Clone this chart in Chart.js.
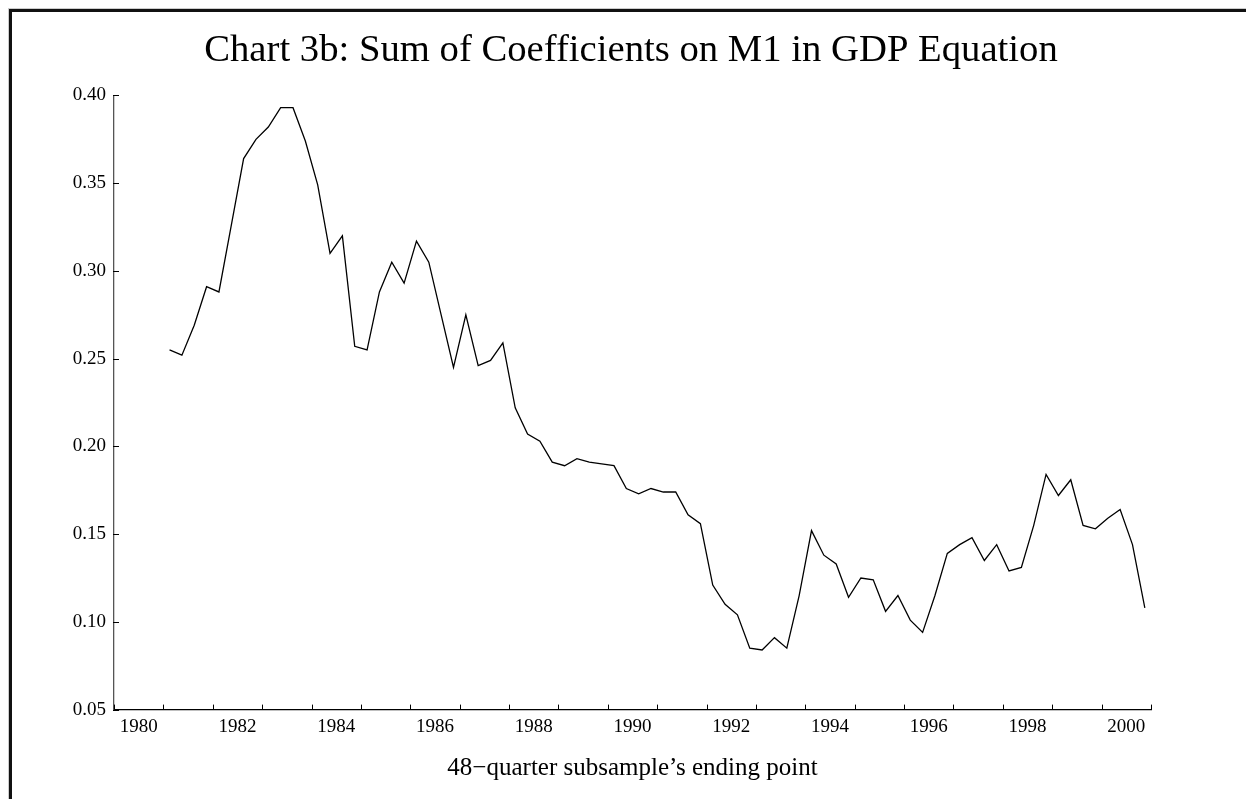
<!DOCTYPE html>
<html>
<head>
<meta charset="utf-8">
<title>Chart 3b</title>
<script src="https://cdn.jsdelivr.net/npm/chart.js@4.4.0/dist/chart.umd.min.js"></script>
<style>
  html, body { margin: 0; padding: 0; background: #fff; }
  #wrap { position: relative; width: 1246px; height: 799px; overflow: hidden; }
  #chart { position: absolute; left: 0; top: 0; }
  /* 그림 테두리 (위/왼쪽만) */
  #frame {
    position: absolute; left: 9px; top: 9px; right: -4px; bottom: -4px;
    border-left: 3px solid #111; border-top: 3px solid #111;
    box-shadow: -1px -1px 0 #ccc;
    pointer-events: none;
  }
</style>
</head>
<body>
<div id="wrap">
  <canvas id="chart" width="1246" height="799"></canvas>
  <div id="frame"></div>
</div>
<script>
// 48분기 표본의 끝 시점 (1981Q1 ~ 2000Q4)
const firstYear = 1981;
const lastYear = 2000;
const quarterLabels = [];
for (let y = firstYear; y <= lastYear; y++) {
  for (let q = 1; q <= 4; q++) quarterLabels.push(y + 'Q' + q);
}

// M1 계수 합
const coefSum = [
  0.255, 0.252, 0.269, 0.291, 0.288, 0.326, 0.364, 0.375, 0.382, 0.393,
  0.393, 0.374, 0.349, 0.310, 0.320, 0.257, 0.255, 0.288, 0.305, 0.293,
  0.317, 0.305, 0.275, 0.245, 0.275, 0.246, 0.249, 0.259, 0.222, 0.207,
  0.203, 0.191, 0.189, 0.193, 0.191, 0.190, 0.189, 0.176, 0.173, 0.176,
  0.174, 0.174, 0.161, 0.156, 0.121, 0.110, 0.104, 0.085, 0.084, 0.091,
  0.085, 0.115, 0.152, 0.138, 0.133, 0.114, 0.125, 0.124, 0.106, 0.115,
  0.101, 0.094, 0.115, 0.139, 0.144, 0.148, 0.135, 0.144, 0.129, 0.131,
  0.155, 0.184, 0.172, 0.181, 0.155, 0.153, 0.159, 0.164, 0.144, 0.108
];

// 축 눈금
const yearLabels = ['1980', '1982', '1984', '1986', '1988', '1990', '1992', '1994', '1996', '1998', '2000'];
const yTicks = [0.05, 0.10, 0.15, 0.20, 0.25, 0.30, 0.35, 0.40];

const FONT = "'Liberation Serif', 'Times New Roman', serif";

// 분기 라벨 -> 연도 축 위치 (분기 중앙)
function quarterToX(label) {
  const y = parseInt(label.substring(0, 4));
  const q = parseInt(label.substring(5));
  return y + (q - 0.5) / 4;
}

const points = quarterLabels.map((l, i) => ({ x: quarterToX(l), y: coefSum[i] }));

// 안쪽으로 향하는 짧은 눈금
const inwardTicks = {
  id: 'inwardTicks',
  afterDraw(chart) {
    const ctx = chart.ctx;
    const xs = chart.scales.x;
    const ys = chart.scales.y;
    const area = chart.chartArea;
    ctx.save();
    ctx.strokeStyle = '#000';
    ctx.lineWidth = 1;
    ctx.beginPath();
    for (let yr = Math.round(xs.min); yr <= Math.round(xs.max); yr++) {
      const px = Math.round(xs.getPixelForValue(yr)) + 0.5;
      ctx.moveTo(px, area.bottom);
      ctx.lineTo(px, area.bottom - 5);
    }
    yTicks.forEach(v => {
      const py = Math.round(ys.getPixelForValue(v)) + 0.5;
      ctx.moveTo(area.left - 1, py);
      ctx.lineTo(area.left + 5, py);
    });
    ctx.stroke();
    ctx.restore();
  }
};

new Chart(document.getElementById('chart'), {
  type: 'line',
  data: {
    datasets: [{
      data: points,
      borderColor: '#000',
      borderWidth: 1.3,
      pointRadius: 0,
      tension: 0,
      fill: false
    }]
  },
  options: {
    responsive: false,
    animation: false,
    devicePixelRatio: 1,
    layout: { padding: { left: 16, right: 0, top: 0, bottom: 0 } },
    plugins: {
      legend: { display: false },
      tooltip: { enabled: false },
      title: {
        display: true,
        text: 'Chart 3b: Sum of Coefficients on M1 in GDP Equation',
        color: '#000',
        font: { family: FONT, size: 38.7, weight: 'normal', lineHeight: 1.2 },
        padding: { top: 28, bottom: 21 }
      }
    },
    scales: {
      x: {
        type: 'linear',
        min: 1980,
        max: 2001,
        afterBuildTicks: scale => {
          scale.ticks = yearLabels.map(l => ({ value: Number(l) + 0.5 }));
        },
        afterFit: scale => { scale.height = 89.4; },
        grid: { display: false, drawTicks: false },
        border: { display: true, color: '#000', width: 1.3 },
        ticks: {
          autoSkip: false,
          maxRotation: 0,
          padding: 6,
          color: '#000',
          font: { family: FONT, size: 19 },
          callback: v => String(Math.floor(v))
        },
        title: {
          display: true,
          text: '48\u2212quarter subsample\u2019s ending point',
          color: '#000',
          font: { family: FONT, size: 25 },
          padding: { top: 0, bottom: 16 }
        }
      },
      y: {
        min: 0.05,
        max: 0.40,
        afterBuildTicks: scale => {
          scale.ticks = yTicks.map(v => ({ value: v }));
        },
        afterFit: scale => { scale.width = 98; },
        grid: { display: false, drawTicks: false },
        border: { display: true, color: '#555', width: 1.3 },
        ticks: {
          padding: 8,
          color: '#000',
          font: { family: FONT, size: 19 },
          callback: v => v.toFixed(2)
        }
      },
      // 오른쪽 여백용 빈 축
      spacer: {
        type: 'linear',
        position: 'right',
        display: true,
        afterFit: scale => { scale.width = 95; },
        grid: { display: false, drawTicks: false },
        border: { display: false },
        ticks: { display: false }
      }
    }
  },
  plugins: [inwardTicks]
});
</script>
</body>
</html>
